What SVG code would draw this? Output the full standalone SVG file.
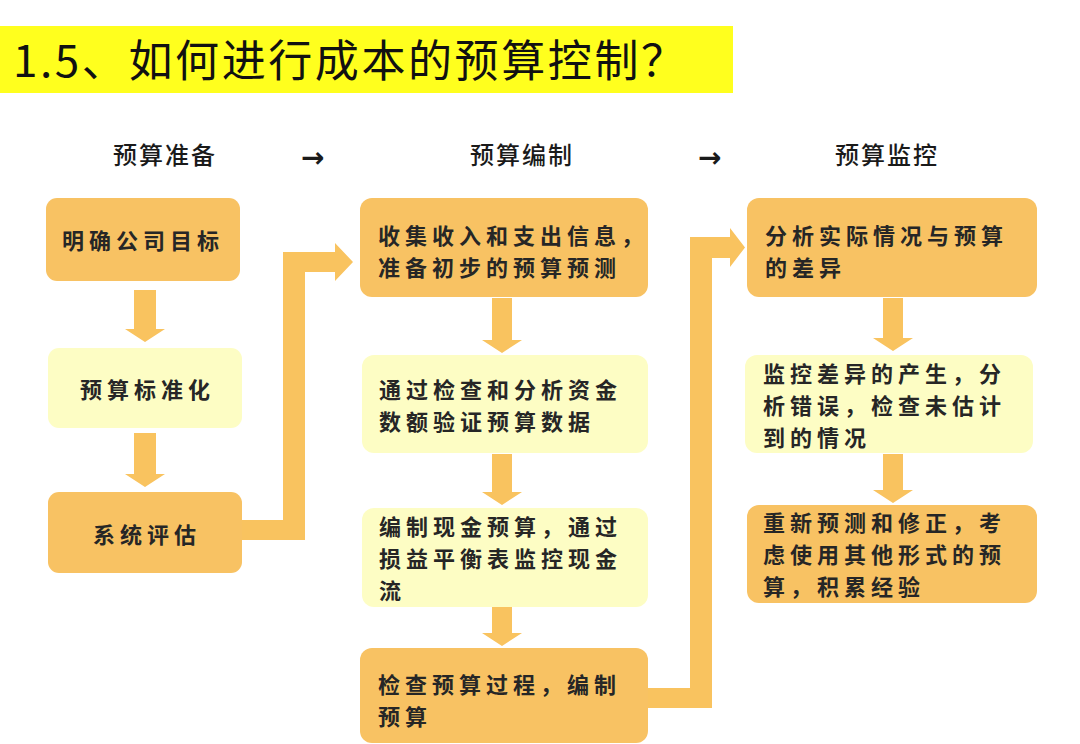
<svg xmlns="http://www.w3.org/2000/svg" width="1080" height="744" viewBox="0 0 1080 744">
<style>
.orange{fill:#F8C263;}
.light{fill:#FDFDC4;}
.conn{fill:#F9C35F;}
.t{font-family:"Noto Sans CJK SC","Noto Sans",sans-serif;font-size:22px;font-weight:700;fill:#262626;letter-spacing:5px;}
.h{font-family:"Noto Sans CJK SC","Noto Sans",sans-serif;font-size:24px;font-weight:500;fill:#1a1a1a;letter-spacing:2px;}
.ar{font-family:"DejaVu Sans",sans-serif;font-size:28px;font-weight:700;fill:#1a1a1a;}
.title{font-family:"Noto Sans CJK SC","Noto Sans",sans-serif;font-size:44px;font-weight:400;fill:#111;}
</style>
<rect x="0" y="0" width="1080" height="744" fill="#FFFFFF"/>
<g id="title">
<rect x="0" y="26" width="733" height="67" fill="#FFFF1E"/>
<text class="title" x="13" y="77" textLength="672" lengthAdjust="spacing">1.5、如何进行成本的预算控制？</text>
</g>
<g id="headers">
<text class="h" x="113" y="164">预算准备</text>
<text class="ar" x="301" y="167">→</text>
<text class="h" x="470" y="164">预算编制</text>
<text class="ar" x="698" y="167">→</text>
<text class="h" x="835" y="164">预算监控</text>
</g>
<g id="connectors">
<path class="conn" d="M134,290 H156 V329 H165 L145,342 L125,329 H134 Z"/>
<path class="conn" d="M134,433 H156 V474 H165 L145,487 L125,474 H134 Z"/>
<path class="conn" d="M492,298 H512 V340 H522 L502,353 L482,340 H492 Z"/>
<path class="conn" d="M492,454 H512 V492 H522 L502,505 L482,492 H492 Z"/>
<path class="conn" d="M492,607 H512 V633 H522 L502,646 L482,633 H492 Z"/>
<path class="conn" d="M883,298 H903 V338 H913 L893,351 L873,338 H883 Z"/>
<path class="conn" d="M883,454 H903 V490 H913 L893,503 L873,490 H883 Z"/>
<path class="conn" d="M241,520 H283 V252 H335 V243 L353,262 L335,281 V272 H305 V540 H241 Z"/>
<path class="conn" d="M647,688 H690 V237 H730 V228 L745,247.5 L730,267 V258 H712 V708 H647 Z"/>
</g>
<g id="n1">
<rect class="orange" x="46" y="198" width="194" height="83" rx="11"/>
<text class="t" x="62" y="249">明确公司目标</text>
</g>
<g id="n2">
<rect class="light" x="48" y="348" width="194" height="80" rx="11"/>
<text class="t" x="80" y="398">预算标准化</text>
</g>
<g id="n3">
<rect class="orange" x="48" y="492" width="194" height="81" rx="11"/>
<text class="t" x="93" y="543">系统评估</text>
</g>
<g id="m1">
<rect class="orange" x="360" y="198" width="288" height="99" rx="12"/>
<text class="t" x="378" y="244">收集收入和支出信息，</text>
<text class="t" x="378" y="276">准备初步的预算预测</text>
</g>
<g id="m2">
<rect class="light" x="362" y="355" width="286" height="98" rx="12"/>
<text class="t" x="379" y="398">通过检查和分析资金</text>
<text class="t" x="379" y="430">数额验证预算数据</text>
</g>
<g id="m3">
<rect class="light" x="362" y="508" width="286" height="99" rx="12"/>
<text class="t" x="379" y="535">编制现金预算，通过</text>
<text class="t" x="379" y="567">损益平衡表监控现金</text>
<text class="t" x="379" y="599">流</text>
</g>
<g id="m4">
<rect class="orange" x="360" y="648" width="288" height="95" rx="12"/>
<text class="t" x="378" y="693">检查预算过程，编制</text>
<text class="t" x="378" y="725">预算</text>
</g>
<g id="r1">
<rect class="orange" x="747" y="198" width="290" height="99" rx="12"/>
<text class="t" x="765" y="244">分析实际情况与预算</text>
<text class="t" x="765" y="276">的差异</text>
</g>
<g id="r2">
<rect class="light" x="745" y="355" width="288" height="98" rx="12"/>
<text class="t" x="763" y="382">监控差异的产生，分</text>
<text class="t" x="763" y="414">析错误，检查未估计</text>
<text class="t" x="763" y="446">到的情况</text>
</g>
<g id="r3">
<rect class="orange" x="747" y="505" width="290" height="98" rx="12"/>
<text class="t" x="763" y="531">重新预测和修正，考</text>
<text class="t" x="763" y="563">虑使用其他形式的预</text>
<text class="t" x="763" y="595">算，积累经验</text>
</g>
</svg>
